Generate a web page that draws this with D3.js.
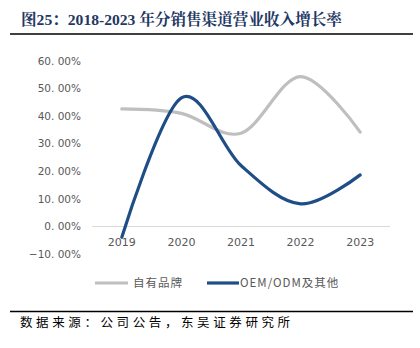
<!DOCTYPE html>
<html>
<head>
<meta charset="utf-8">
<script src="https://cdn.jsdelivr.net/npm/d3@7"></script>
<style>
  html, body { margin: 0; padding: 0; background: #fff; }
  svg { display: block; }
</style>
</head>
<body>
<svg id="chart" width="420" height="348"></svg>
<script>
// Revenue growth by sales channel, 2019–2023 (%)
const years = ["2019", "2020", "2021", "2022", "2023"];
const ownBrand = [42.6, 41.0, 33.8, 54.3, 34.2];   // 自有品牌
const oemOdm = [-3.9, 46.6, 22.1, 8.2, 18.7];      // OEM/ODM及其他
const yTicks = [-10, 0, 10, 20, 30, 40, 50, 60];
const seriesNames = ["自有品牌", "OEM/ODM及其他"];
const seriesColors = ["#bfbfbf", "#1f4e87"];

const svg = d3.select("#chart");
const cjk = "'Noto Sans CJK SC', 'Noto Sans', sans-serif";
const serifBold = "'Liberation Serif', 'Noto Serif CJK SC', 'Noto Sans CJK SC', serif";

// Title
svg.append("text")
  .attr("x", 21).attr("y", 25)
  .attr("font-family", serifBold)
  .attr("font-weight", "bold")
  .attr("font-size", 15.6)
  .attr("fill", "#1f3864")
  .text("图25：2018-2023 年分销售渠道营业收入增长率");

svg.append("line")
  .attr("x1", 10).attr("x2", 413).attr("y1", 34).attr("y2", 34)
  .attr("stroke", "#000").attr("stroke-width", 1.6);

// Scales
const x = d3.scaleBand().domain(years).range([92, 390]);
const y = d3.scaleLinear().domain([-10, 60]).range([254.1, 60.9]);
const cx = d => x(d) + x.bandwidth() / 2;

// Y axis labels
svg.append("g")
  .selectAll("text")
  .data(yTicks)
  .join("text")
  .attr("x", 81)
  .attr("y", d => y(d))
  .attr("dy", "0.36em")
  .attr("text-anchor", "end")
  .attr("font-family", "'DejaVu Sans', sans-serif")
  .attr("font-size", 10.5)
  .attr("fill", "#595959")
  .text(d => d3.format(".2f")(d).replace("-", "−").replace(".", ". ") + "%");

// Zero baseline
svg.append("line")
  .attr("x1", 92).attr("x2", 390)
  .attr("y1", y(0)).attr("y2", y(0))
  .attr("stroke", "#d9d9d9").attr("stroke-width", 1);

// X axis labels
svg.append("g")
  .selectAll("text")
  .data(years)
  .join("text")
  .attr("x", d => cx(d))
  .attr("y", 242)
  .attr("dy", "0.36em")
  .attr("text-anchor", "middle")
  .attr("font-family", "'DejaVu Sans', sans-serif")
  .attr("font-size", 11)
  .attr("fill", "#595959")
  .text(d => d);

// Lines
const line = d3.line()
  .x((d, i) => cx(years[i]))
  .y(d => y(d))
  .curve(d3.curveCardinal.tension(0));

[ownBrand, oemOdm].forEach((vals, i) => {
  svg.append("path")
    .datum(vals)
    .attr("d", line)
    .attr("fill", "none")
    .attr("stroke", seriesColors[i])
    .attr("stroke-width", 3.2)
    .attr("stroke-linecap", "round");
});

// Legend
const legendItems = [
  { x1: 95, x2: 128, tx: 133 },
  { x1: 207, x2: 239, tx: 240 }
];
legendItems.forEach((it, i) => {
  svg.append("line")
    .attr("x1", it.x1).attr("x2", it.x2)
    .attr("y1", 283).attr("y2", 283)
    .attr("stroke", seriesColors[i]).attr("stroke-width", 3.2);
  svg.append("text")
    .attr("x", it.tx).attr("y", 283)
    .attr("dy", "0.36em")
    .attr("font-family", cjk)
    .attr("font-size", 11.5)
    .attr("letter-spacing", 1.0)
    .attr("fill", "#595959")
    .text(seriesNames[i]);
});

// Footer
svg.append("line")
  .attr("x1", 10).attr("x2", 413).attr("y1", 311.5).attr("y2", 311.5)
  .attr("stroke", "#000").attr("stroke-width", 1.6);

svg.append("text")
  .attr("x", 20).attr("y", 322)
  .attr("dy", "0.36em")
  .attr("font-family", cjk)
  .attr("font-size", 12.5)
  .attr("letter-spacing", 3.6)
  .attr("fill", "#000")
  .text("数据来源：公司公告，东吴证券研究所");
</script>
</body>
</html>
